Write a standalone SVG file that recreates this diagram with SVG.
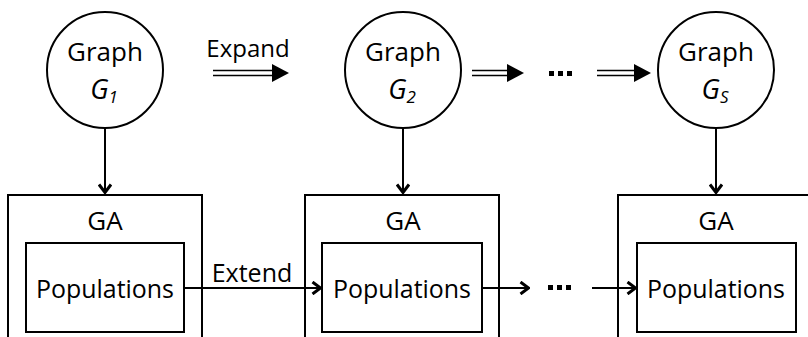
<svg xmlns="http://www.w3.org/2000/svg" width="808" height="337" viewBox="0 0 808 337">
<defs>
<style>
.s{fill:none;stroke:#000;stroke-width:2}
.w{fill:#fff;stroke:#000;stroke-width:2}
text{font-family:"Open Sans","Noto Sans",sans-serif;font-size:26px;fill:#000;text-anchor:middle}
.i{font-style:italic;font-size:27px}
.sub{font-size:17px}
</style>
<marker id="ch" viewBox="0 0 12 14" refX="11" refY="7" markerWidth="12" markerHeight="14" markerUnits="userSpaceOnUse" orient="auto">
<path d="M2.5,1 L10.5,7 L2.5,13" fill="none" stroke="#000" stroke-width="3"/>
</marker>
</defs>
<rect width="808" height="337" fill="#fff"/>
<g id="g1">
<circle class="w" cx="105" cy="70" r="58"/>
<text x="105" y="61">Graph</text>
<text x="104" y="99" class="i">G<tspan class="sub" dy="4">1</tspan></text>
</g>
<g id="g2">
<circle class="w" cx="403" cy="70" r="58"/>
<text x="403" y="61">Graph</text>
<text x="402" y="99" class="i">G<tspan class="sub" dy="4">2</tspan></text>
</g>
<g id="g3">
<circle class="w" cx="716" cy="70" r="58"/>
<text x="716" y="61">Graph</text>
<text x="715" y="99" class="i">G<tspan class="sub" dy="4">S</tspan></text>
</g>
<g id="ga1">
<rect class="s" x="8" y="195" width="194" height="160"/>
<text x="105" y="230">GA</text>
</g>
<g id="pop1">
<rect class="s" x="26" y="243" width="158" height="89"/>
<text x="105" y="298" textLength="138" lengthAdjust="spacingAndGlyphs">Populations</text>
</g>
<g id="ga2">
<rect class="s" x="305" y="195" width="194" height="160"/>
<text x="403" y="230">GA</text>
</g>
<g id="pop2">
<rect class="s" x="322" y="243" width="160" height="89"/>
<text x="402" y="298" textLength="138" lengthAdjust="spacingAndGlyphs">Populations</text>
</g>
<g id="ga3">
<rect class="s" x="618" y="195" width="210" height="160"/>
<text x="716" y="230">GA</text>
</g>
<g id="pop3">
<rect class="s" x="637" y="243" width="159" height="89"/>
<text x="716" y="298" textLength="138" lengthAdjust="spacingAndGlyphs">Populations</text>
</g>
<g id="connectors">
<line class="s" x1="105" y1="128" x2="105" y2="193" marker-end="url(#ch)"/>
<line class="s" x1="403" y1="128" x2="403" y2="193" marker-end="url(#ch)"/>
<line class="s" x1="716" y1="128" x2="716" y2="193" marker-end="url(#ch)"/>
<line class="s" x1="184" y1="288" x2="321" y2="288" marker-end="url(#ch)"/>
<text x="252" y="282" style="font-size:25px">Extend</text>
<line class="s" x1="482" y1="288" x2="529" y2="288" marker-end="url(#ch)"/>
<line class="s" x1="592" y1="288" x2="636" y2="288" marker-end="url(#ch)"/>
<g fill="#000">
<rect x="548" y="285" width="5" height="5"/><rect x="557" y="285" width="5" height="5"/><rect x="566" y="285" width="5" height="5"/>
<rect x="549" y="71" width="5" height="5"/><rect x="558" y="71" width="5" height="5"/><rect x="567" y="71" width="5" height="5"/>
</g>
<g stroke="#000" stroke-width="1.5" fill="none">
<path d="M213,70.5 H274 M213,75.5 H274"/>
<path d="M472,70.5 H509 M472,75.5 H509"/>
<path d="M597,70.5 H636 M597,75.5 H636"/>
</g>
<g fill="#000">
<path d="M272,64 L289,73 L272,82 Z"/>
<path d="M507,64 L524,73 L507,82 Z"/>
<path d="M634,64 L651,73 L634,82 Z"/>
</g>
<text x="248" y="57" style="font-size:24px">Expand</text>
</g>
</svg>
